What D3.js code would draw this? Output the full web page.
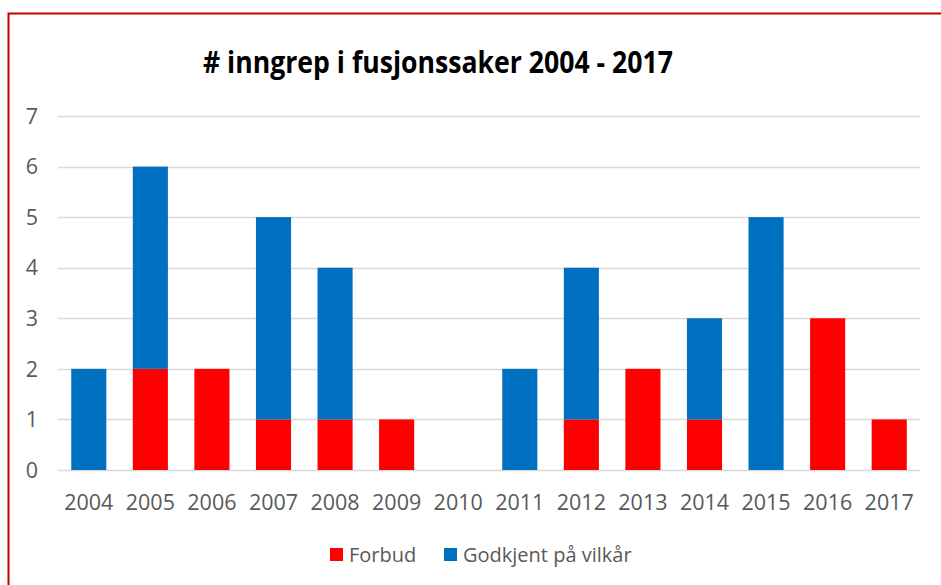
<!DOCTYPE html>
<html>
<head>
<meta charset="utf-8">
<script src="https://cdn.jsdelivr.net/npm/d3@7"></script>
<style>
  body { margin: 0; background: #fff; }
  svg { display: block; }
</style>
</head>
<body>
<div id="chart"></div>
<script>
const width = 941;
const height = 585;

// data
const years = ["2004","2005","2006","2007","2008","2009","2010","2011","2012","2013","2014","2015","2016","2017"];
const forbud =   [0, 2, 2, 1, 1, 1, 0, 0, 1, 2, 1, 0, 3, 1];
const godkjent = [2, 4, 0, 4, 3, 0, 0, 2, 3, 0, 2, 5, 0, 0];
const seriesNames = ["Forbud", "Godkjent på vilkår"];
const seriesColors = ["#FF0000", "#0070C0"];
const yTicks = [0, 1, 2, 3, 4, 5, 6, 7];
const title = "# inngrep i fusjonssaker 2004 - 2017";

const margin = {left: 58, right: 21, top: 116, bottom: 115};
const font = "'Open Sans', sans-serif";

const svg = d3.select("#chart").append("svg")
  .attr("width", width)
  .attr("height", height);

// red frame (only left and top edges visible in the crop)
svg.append("path")
  .attr("d", "M8.5," + height + " L8.5,13.5 L" + width + ",13.5")
  .attr("fill", "none")
  .attr("stroke", "#C00000")
  .attr("stroke-width", 2);

const x = d3.scaleBand()
  .domain(years)
  .range([margin.left, width - margin.right])
  .paddingInner(0.43)
  .paddingOuter(0.215);

const y = d3.scaleLinear()
  .domain([0, 7])
  .range([height - margin.bottom, margin.top]);

// gridlines
svg.append("g")
  .selectAll("line")
  .data(yTicks)
  .enter()
  .append("line")
  .attr("x1", margin.left)
  .attr("x2", width - margin.right)
  .attr("y1", d => Math.round(y(d)) + 0.5)
  .attr("y2", d => Math.round(y(d)) + 0.5)
  .attr("stroke", "#D9D9D9")
  .attr("stroke-width", 1.3);

// y tick labels
svg.append("g")
  .selectAll("text")
  .data(yTicks)
  .enter()
  .append("text")
  .attr("x", 38)
  .attr("y", d => y(d))
  .attr("dy", "0.36em")
  .attr("text-anchor", "end")
  .attr("font-family", font)
  .attr("font-size", "21.5px")
  .attr("fill", "#595959")
  .text(d => d);

// stacked bars
const rows = years.map((yr, i) => ({year: yr, Forbud: forbud[i], "Godkjent på vilkår": godkjent[i]}));
const stack = d3.stack().keys(seriesNames)(rows);

svg.append("g")
  .selectAll("g")
  .data(stack)
  .enter()
  .append("g")
  .attr("fill", (d, i) => seriesColors[i])
  .selectAll("rect")
  .data(d => d)
  .enter()
  .append("rect")
  .attr("x", d => x(d.data.year))
  .attr("width", x.bandwidth())
  .attr("y", d => y(d[1]))
  .attr("height", d => y(d[0]) - y(d[1]));

// x labels
svg.append("g")
  .selectAll("text")
  .data(years)
  .enter()
  .append("text")
  .attr("x", d => x(d) + x.bandwidth() / 2)
  .attr("y", 502)
  .attr("dy", "0.36em")
  .attr("text-anchor", "middle")
  .attr("font-family", font)
  .attr("font-size", "21.5px")
  .attr("fill", "#595959")
  .text(d => d);

// title
svg.append("text")
  .attr("x", 438)
  .attr("y", 62)
  .attr("dy", "0.36em")
  .attr("text-anchor", "middle")
  .attr("font-family", font)
  .attr("font-weight", "bold")
  .attr("font-size", "31px")
  .attr("textLength", 470)
  .attr("lengthAdjust", "spacingAndGlyphs")
  .attr("fill", "#000")
  .text(title);

// legend
const legendX = [330, 444];
const legend = svg.append("g")
  .selectAll("g")
  .data(seriesNames)
  .enter()
  .append("g")
  .attr("transform", (d, i) => "translate(" + legendX[i] + ",548)");

legend.append("rect")
  .attr("width", 13)
  .attr("height", 13)
  .attr("fill", (d, i) => seriesColors[i]);

legend.append("text")
  .attr("x", 19)
  .attr("y", 7)
  .attr("dy", "0.36em")
  .attr("font-family", font)
  .attr("font-size", "20px")
  .attr("fill", "#595959")
  .text(d => d);
</script>
</body>
</html>
